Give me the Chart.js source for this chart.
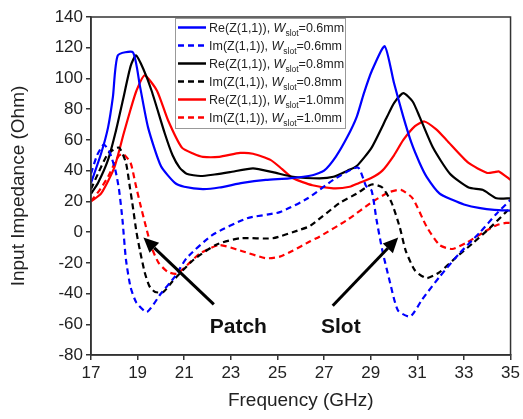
<!DOCTYPE html>
<html>
<head>
<meta charset="utf-8">
<script src="https://cdn.jsdelivr.net/npm/chart.js@4.4.1/dist/chart.umd.min.js"></script>
<style>
  html, body { margin: 0; padding: 0; background: #fff; }
</style>
</head>
<body>
<canvas id="chart" width="523" height="419"></canvas>
<script>
"use strict"

// DATA

// W_slot = 0.6 mm
const freqRe06 = [17, 17.43, 17.73, 17.94, 18.15, 18.8, 19.1, 19.45, 20.0, 20.6, 21.0, 21.8, 22.5, 23.5, 24.5, 25.5, 26.5, 27.0, 27.5, 28.0, 28.4, 28.7, 29.05, 29.6, 30.0, 30.4, 30.75, 31.1, 31.4, 31.96, 32.5, 33.0, 33.7, 34.3, 35];
const re06 = [32, 51, 68, 88, 115, 117, 95, 68, 43, 32, 29.5, 28, 29, 32, 34, 35, 37, 40, 49, 62, 75, 90, 105, 121, 97, 75, 58, 45, 36, 25, 21, 18, 15.6, 14.5, 14];
const freqIm06 = [17, 17.26, 17.55, 17.8, 18.05, 18.2, 18.35, 18.5, 18.7, 18.95, 19.4, 20.0, 20.6, 21.1, 22.2, 23.7, 25.1, 26.3, 27.4, 28.45, 28.8, 29.04, 29.25, 29.5, 29.8, 30.17, 30.7, 31.2, 31.96, 32.8, 33.7, 34.4, 35];
const im06 = [38, 50, 57, 52, 40, 28, 8, -18, -36, -46, -52, -40, -29, -17, -2, 9, 13, 22, 34, 42, 30, 27, 8, -12, -31, -51, -55, -44, -29, -14, 0, 12, 21];

// W_slot = 0.8 mm
const freqRe08 = [17, 17.3, 17.73, 18.07, 18.37, 18.7, 18.93, 19.25, 19.6, 20.17, 20.5, 20.8, 21.1, 21.7, 22.3, 22.96, 23.95, 24.8, 25.67, 26.8, 27.4, 28.0, 28.4, 29.04, 29.7, 30.0, 30.4, 30.8, 31.1, 31.67, 32.4, 33.2, 33.8, 34.4, 35];
const re08 = [25, 32, 47, 66, 86, 108, 115, 106, 92, 64, 50, 42, 38, 36.5, 37.5, 39, 41.5, 39, 36, 35, 36, 40, 43, 55, 75, 84, 90.5, 85, 75, 55, 38, 29, 27.5, 22, 22];
const freqIm08 = [17, 17.3, 17.73, 18.2, 18.5, 18.67, 18.8, 18.95, 19.1, 19.3, 19.5, 19.75, 20.1, 20.5, 21.4, 22.4, 23.4, 24.8, 25.96, 26.4, 27.67, 28.4, 29.04, 29.5, 29.9, 30.25, 30.5, 30.9, 31.4, 31.96, 32.7, 33.4, 34.1, 34.8, 35];
const im08 = [28, 38, 51, 55, 45, 29, 16, 0, -12, -26, -35, -39, -39, -32, -18, -8, -4, -4, 1.5, 4, 19, 25, 31, 29, 19, 3, -12, -25, -30, -26, -16, -7, 2.5, 13, 16];

// W_slot = 1.0 mm
const freqRe10 = [17, 17.43, 18.0, 18.4, 18.7, 18.95, 19.3, 19.83, 20.3, 20.9, 21.4, 21.8, 22.5, 23.4, 23.95, 24.7, 25.2, 25.67, 26.5, 27.4, 28.1, 28.5, 29.0, 29.5, 30.0, 30.4, 30.9, 31.3, 31.8, 32.25, 33.2, 34.0, 34.3, 34.5, 35];
const re10 = [20, 25, 42, 64, 80, 92, 102, 92, 73, 55, 51, 49, 49, 51.5, 51, 47, 41, 35, 30.5, 28.5, 29.5, 32, 35, 40, 50, 60, 69, 72, 67, 60, 45, 38.5, 39, 39.5, 34];
const freqIm10 = [17, 17.4, 17.73, 18.16, 18.37, 18.7, 18.9, 19.1, 19.4, 19.6, 19.9, 20.3, 20.7, 21.67, 22.5, 23.4, 24.5, 25.1, 25.67, 26.4, 26.8, 28.0, 29.1, 29.8, 30.3, 30.8, 31.4, 31.96, 32.5, 33.1, 33.8, 34.4, 34.8, 35];
const im10 = [20, 28, 36, 49, 51, 45, 32, 19, 1, -10, -20, -26, -27, -14, -8.5, -12, -17, -16, -12, -6, -3, 8, 20, 26, 27.5, 22, 3.5, -8.5, -11, -7, -0.5, 4.5, 6, 6];

// legend parts
const seriesKind = ['Re', 'Im', 'Re', 'Im', 'Re', 'Im'];
const slotWidths = ['0.6', '0.6', '0.8', '0.8', '1.0', '1.0'];

// axis ticks
const xTicks = [17, 19, 21, 23, 25, 27, 29, 31, 33, 35];
const yTicks = [-80, -60, -40, -20, 0, 20, 40, 60, 80, 100, 120, 140];

const FONT = "'Liberation Sans', Arial, sans-serif";

function pts(xs, ys) {
  return xs.map((x, i) => ({ x: x, y: ys[i] }));
}

function makeSet(i, xs, ys, color, dashed) {
  return {
    label: seriesKind[i] + '(Z(1,1)), Wslot=' + slotWidths[i] + 'mm',
    data: pts(xs, ys),
    borderColor: color,
    backgroundColor: color,
    borderWidth: 2.2,
    borderDash: dashed ? [6, 4] : [],
    pointRadius: 0,
    tension: 0.2,
    fill: false,
    showLine: true
  };
}

const datasets = [
  makeSet(0, freqRe06, re06, '#0000ff', false),
  makeSet(1, freqIm06, im06, '#0000ff', true),
  makeSet(2, freqRe08, re08, '#000000', false),
  makeSet(3, freqIm08, im08, '#000000', true),
  makeSet(4, freqRe10, re10, '#ff0000', false),
  makeSet(5, freqIm10, im10, '#ff0000', true)
];

// box round the plot area (top and right sides too)
const frame = {
  id: 'frame',
  afterDraw(chart) {
    const a = chart.chartArea, ctx = chart.ctx;
    ctx.save();
    ctx.strokeStyle = '#333';
    ctx.lineWidth = 1.5;
    ctx.strokeRect(a.left, a.top, a.right - a.left, a.bottom - a.top);
    ctx.restore();
  }
};

// legend with italic W and subscript "slot"
const slotLegend = {
  id: 'slotLegend',
  afterDraw(chart) {
    const ctx = chart.ctx;
    const x0 = 175, y0 = 18, w = 170, h = 110;
    ctx.save();
    ctx.fillStyle = '#fff';
    ctx.fillRect(x0, y0, w, h);
    ctx.strokeStyle = '#999';
    ctx.lineWidth = 1;
    ctx.strokeRect(x0 + 0.5, y0 + 0.5, w, h);
    chart.data.datasets.forEach((ds, i) => {
      const cy = y0 + 9.5 + i * 18;
      ctx.strokeStyle = ds.borderColor;
      ctx.lineWidth = 2.5;
      ctx.setLineDash(ds.borderDash);
      ctx.beginPath();
      ctx.moveTo(x0 + 3, cy);
      ctx.lineTo(x0 + 31, cy);
      ctx.stroke();
      ctx.setLineDash([]);

      const base = cy + 4.5;
      let x = x0 + 34;
      ctx.fillStyle = '#222';
      ctx.textBaseline = 'alphabetic';
      ctx.textAlign = 'left';
      ctx.font = '12.5px ' + FONT;
      let s = seriesKind[i] + '(Z(1,1)), ';
      ctx.fillText(s, x, base);
      x += ctx.measureText(s).width;
      ctx.font = 'italic 12.5px ' + FONT;
      ctx.fillText('W', x, base);
      x += ctx.measureText('W').width;
      ctx.font = '8.5px ' + FONT;
      ctx.fillText('slot', x, base + 3.5);
      x += ctx.measureText('slot').width;
      ctx.font = '12.5px ' + FONT;
      ctx.fillText('=' + slotWidths[i] + 'mm', x, base);
    });
    ctx.restore();
  }
};

// arrows and the "Patch" / "Slot" notes, placed in data units
const notes = [
  { text: 'Patch', at: [23.32, -62], tail: [22.27, -47], head: [19.25, -3.5] },
  { text: 'Slot', at: [27.72, -62], tail: [27.37, -48], head: [30.18, -3.5] }
];

const arrows = {
  id: 'arrows',
  afterDatasetsDraw(chart) {
    const ctx = chart.ctx, xs = chart.scales.x, ys = chart.scales.y;
    ctx.save();
    notes.forEach(n => {
      const tx = xs.getPixelForValue(n.tail[0]), ty = ys.getPixelForValue(n.tail[1]);
      const hx = xs.getPixelForValue(n.head[0]), hy = ys.getPixelForValue(n.head[1]);
      const ang = Math.atan2(hy - ty, hx - tx);
      const len = 15, half = 7;
      const bx = hx - len * Math.cos(ang), by = hy - len * Math.sin(ang);
      ctx.strokeStyle = '#000';
      ctx.fillStyle = '#000';
      ctx.lineWidth = 3;
      ctx.beginPath();
      ctx.moveTo(tx, ty);
      ctx.lineTo(bx, by);
      ctx.stroke();
      ctx.beginPath();
      ctx.moveTo(hx, hy);
      ctx.lineTo(bx + half * Math.sin(ang), by - half * Math.cos(ang));
      ctx.lineTo(bx - half * Math.sin(ang), by + half * Math.cos(ang));
      ctx.closePath();
      ctx.fill();

      ctx.font = 'bold 21px ' + FONT;
      ctx.textAlign = 'center';
      ctx.textBaseline = 'middle';
      ctx.fillStyle = '#111';
      ctx.fillText(n.text, xs.getPixelForValue(n.at[0]), ys.getPixelForValue(n.at[1]));
    });
    ctx.restore();
  }
};

const config = {
  type: 'scatter',
  data: { datasets: datasets },
  options: {
    responsive: false,
    animation: false,
    layout: { padding: { left: 0, top: 17, right: 12, bottom: 0 } },
    plugins: {
      legend: { display: false },
      tooltip: { enabled: false }
    },
    scales: {
      x: {
        type: 'linear',
        min: 17,
        max: 35,
        afterBuildTicks: s => { s.ticks = xTicks.map(v => ({ value: v })); },
        afterFit: s => { s.height = 64; },
        ticks: { color: '#222', font: { family: FONT, size: 17 }, padding: 3, maxRotation: 0 },
        grid: { drawOnChartArea: false, drawTicks: true, tickLength: 5, color: '#333', lineWidth: 1.5 },
        border: { display: true, color: '#333', width: 1.5 },
        title: { display: true, text: 'Frequency (GHz)', color: '#222', font: { family: FONT, size: 19 }, padding: { top: 0, bottom: 7 } }
      },
      y: {
        min: -80,
        max: 140,
        afterBuildTicks: s => { s.ticks = yTicks.map(v => ({ value: v })); },
        afterFit: s => { s.width = 91; },
        ticks: { color: '#222', font: { family: FONT, size: 17 }, padding: 3 },
        grid: { drawOnChartArea: false, drawTicks: true, tickLength: 5, color: '#333', lineWidth: 1.5 },
        border: { display: true, color: '#333', width: 1.5 },
        title: { display: true, text: 'Input Impedance (Ohm)', color: '#222', font: { family: FONT, size: 19 }, padding: { top: 7, bottom: 0 } }
      }
    }
  },
  plugins: [frame, arrows, slotLegend]
};

const chart = new Chart(document.getElementById('chart'), config);
</script>
</body>
</html>
